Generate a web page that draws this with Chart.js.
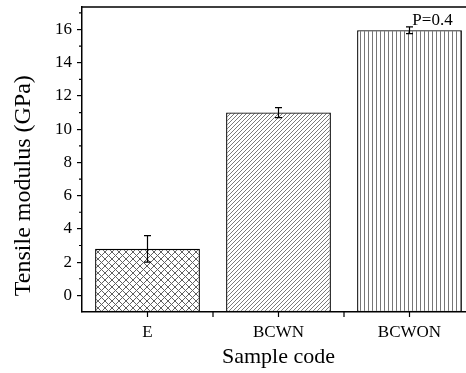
<!DOCTYPE html>
<html>
<head>
<meta charset="utf-8">
<script src="https://cdn.jsdelivr.net/npm/chart.js@4.4.1/dist/chart.umd.min.js"></script>
<style>
  html, body { margin: 0; padding: 0; background: #fff; overflow: hidden; }
  .wrap { position: relative; width: 475px; height: 373px; }
</style>
</head>
<body>
<div class="wrap"><canvas id="chart" width="475" height="373"></canvas></div>
<script>
// ─── Data ───
const categories = ['E', 'BCWN', 'BCWON'];
const modulus = [2.8, 11.0, 15.95];
const modulusErr = [0.8, 0.3, 0.2];
const yTicks = [0, 2, 4, 6, 8, 10, 12, 14, 16];
const yMinorTicks = [1, 3, 5, 7, 9, 11, 13, 15, 17];
const yMin = -1, yMax = 17.35;
const pNote = 'P=0.4';
const yTitle = 'Tensile modulus (GPa)';

const SERIF = "'Liberation Serif', 'Times New Roman', serif";

// ─── Hatch patterns ───
const Hatch = {
  make(w, h, color, draw) {
    const c = document.createElement('canvas');
    c.width = w; c.height = h;
    const g = c.getContext('2d');
    g.fillStyle = '#fff';
    g.fillRect(0, 0, w, h);
    g.strokeStyle = color;
    g.fillStyle = color;
    g.lineWidth = 1;
    draw(g, w, h);
    return g.createPattern(c, 'repeat');
  },
  cross() {
    return this.make(7, 7, '#606060', (g, w, h) => {
      g.beginPath();
      g.moveTo(-1, -1); g.lineTo(w + 1, h + 1);
      g.moveTo(-1, h + 1); g.lineTo(w + 1, -1);
      g.stroke();
    });
  },
  diagonal() {
    return this.make(4, 4, '#7a7a7a', (g, w, h) => {
      g.beginPath();
      g.moveTo(-1, h + 1); g.lineTo(w + 1, -1);
      g.moveTo(-1, 1); g.lineTo(1, -1);
      g.moveTo(w - 1, h + 1); g.lineTo(w + 1, h - 1);
      g.stroke();
    });
  },
  vertical() {
    return this.make(4, 4, '#777', (g, w, h) => { g.fillRect(0, 0, 1, h); });
  }
};

// ─── Error bars, minor ticks, frame, titles ───
const extras = {
  id: 'extras',
  afterDatasetsDraw(chart) {
    const { ctx, chartArea: a, scales: { x, y } } = chart;
    ctx.save();
    ctx.strokeStyle = '#000';

    // error bars
    ctx.lineWidth = 1.2;
    modulus.forEach((v, i) => {
      const cx = x.getPixelForValue(i);
      const top = y.getPixelForValue(v + modulusErr[i]);
      const bot = y.getPixelForValue(v - modulusErr[i]);
      ctx.beginPath();
      ctx.moveTo(cx, top); ctx.lineTo(cx, bot);
      ctx.moveTo(cx - 3.5, top); ctx.lineTo(cx + 3.5, top);
      ctx.moveTo(cx - 3.5, bot); ctx.lineTo(cx + 3.5, bot);
      ctx.stroke();
    });

    // minor ticks on y
    ctx.beginPath();
    yMinorTicks.forEach(v => {
      const py = y.getPixelForValue(v);
      ctx.moveTo(a.left - 3, py); ctx.lineTo(a.left, py);
    });
    ctx.stroke();

    // x ticks at centres and between categories
    ctx.beginPath();
    categories.forEach((c, i) => {
      const cx = x.getPixelForValue(i);
      ctx.moveTo(cx, a.bottom); ctx.lineTo(cx, a.bottom + 5);
      if (i < categories.length - 1) {
        const bx = (cx + x.getPixelForValue(i + 1)) / 2;
        ctx.moveTo(bx, a.bottom); ctx.lineTo(bx, a.bottom + 5);
      }
    });
    ctx.stroke();

    // top / right frame
    ctx.lineWidth = 1.5;
    ctx.beginPath();
    ctx.moveTo(a.left, a.top); ctx.lineTo(a.right, a.top); ctx.lineTo(a.right, a.bottom);
    ctx.stroke();

    // P note over the last bar
    const last = modulus.length - 1;
    const nx = x.getPixelForValue(last) + 23;
    const ny = y.getPixelForValue(modulus[last] + modulusErr[last]) - 2;
    ctx.fillStyle = '#000';
    ctx.font = `17px ${SERIF}`;
    ctx.textAlign = 'center';
    ctx.textBaseline = 'alphabetic';
    ctx.fillText(pNote, nx, ny);

    // y title (sits a bit low, as in the original)
    ctx.font = `24px ${SERIF}`;
    ctx.textBaseline = 'middle';
    ctx.translate(24, y.getPixelForValue(6.6));
    ctx.rotate(-Math.PI / 2);
    ctx.fillText(yTitle, 0, 0);
    ctx.restore();
  }
};

// ─── Chart ───
const ctx = document.getElementById('chart');
new Chart(ctx, {
  type: 'bar',
  data: {
    labels: categories,
    datasets: [{
      data: modulus,
      base: yMin,
      backgroundColor: [Hatch.cross(), Hatch.diagonal(), Hatch.vertical()],
      borderColor: '#000',
      borderWidth: 1.3,
      borderSkipped: false,
      barPercentage: 0.8,
      categoryPercentage: 1
    }]
  },
  options: {
    responsive: false,
    animation: false,
    devicePixelRatio: 1,
    layout: { padding: { top: 7, right: 0, left: 0, bottom: 0 } },
    plugins: { legend: { display: false }, tooltip: { enabled: false } },
    scales: {
      x: {
        offset: true,
        grid: { display: false },
        border: { display: true, color: '#000', width: 1.5 },
        ticks: { color: '#000', font: { family: SERIF, size: 17 }, padding: 2 },
        title: { display: true, text: 'Sample code', color: '#000', font: { family: SERIF, size: 22 }, padding: { top: 0, bottom: 3 } },
        afterFit: s => { s.height = 61; s.paddingLeft = 0; s.paddingRight = 0; }
      },
      y: {
        min: yMin,
        max: yMax,
        afterBuildTicks: s => { s.ticks = yTicks.map(v => ({ value: v })); },
        grid: { display: true, drawOnChartArea: false, drawTicks: true, tickLength: 5, color: '#000', lineWidth: 1.2 },
        border: { display: true, color: '#000', width: 1.5 },
        ticks: { color: '#000', font: { family: SERIF, size: 17 }, padding: 5 },
        afterFit: s => { s.width = 82; s.paddingTop = 0; s.paddingBottom = 0; }
      }
    }
  },
  plugins: [extras]
});
</script>
</body>
</html>
